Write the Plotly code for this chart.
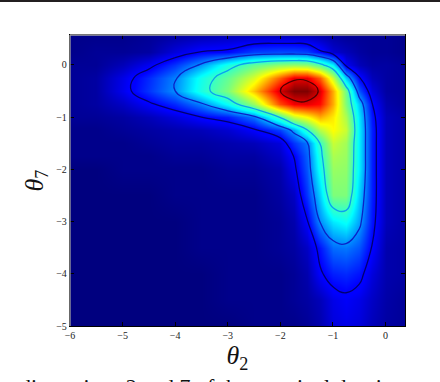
import plotly.graph_objects as go

# Grid of the density (rows follow theta7, columns theta2)
theta2 = [-6, -5.5, -5, -4.5, -4, -3.5, -3, -2.5, -2, -1.75, -1.5, -1.25, -1, -0.75, -0.5, -0.25, 0, 0.4]
theta7 = [-5, -4.5, -4, -3.5, -3, -2.5, -2, -1.75, -1.5, -1.25, -1, -0.75, -0.5, -0.25, 0, 0.25, 0.57]

density = [
    [.00, .00, .00, .00, .00, .00, .00, .01, .01, .01, .02, .04, .08, .09, .08, .05, .03, .02],
    [.00, .00, .00, .00, .00, .00, .01, .01, .01, .02, .03, .05, .09, .105, .09, .06, .035, .02],
    [.00, .00, .00, .00, .00, .00, .01, .01, .01, .02, .04, .11, .15, .16, .14, .08, .04, .03],
    [.00, .00, .00, .00, .00, .01, .01, .01, .02, .03, .06, .14, .22, .23, .20, .115, .04, .03],
    [.00, .00, .00, .00, .00, .01, .01, .01, .02, .04, .11, .25, .33, .36, .27, .14, .05, .03],
    [.00, .00, .00, .00, .01, .01, .01, .01, .03, .06, .17, .31, .50, .50, .31, .15, .05, .03],
    [.00, .00, .01, .01, .01, .01, .02, .02, .04, .10, .20, .37, .53, .52, .34, .15, .05, .03],
    [.01, .01, .01, .01, .02, .02, .03, .03, .06, .12, .21, .39, .55, .53, .34, .15, .05, .03],
    [.01, .01, .01, .02, .03, .03, .04, .05, .08, .17, .23, .42, .58, .54, .34, .15, .05, .03],
    [.01, .01, .02, .03, .04, .05, .07, .11, .18, .27, .41, .56, .64, .58, .34, .15, .05, .03],
    [.02, .02, .03, .05, .08, .12, .15, .23, .43, .58, .64, .72, .66, .55, .33, .14, .05, .03],
    [.02, .03, .06, .11, .16, .24, .36, .53, .82, .90, .91, .88, .72, .50, .30, .12, .04, .02],
    [.02, .03, .095, .17, .25, .38, .50, .70, .93, 1.0, 1.0, .92, .72, .48, .20, .08, .03, .02],
    [.02, .03, .09, .16, .24, .37, .47, .60, .80, .91, .91, .80, .58, .30, .125, .05, .03, .02],
    [.02, .02, .05, .10, .17, .26, .38, .47, .52, .53, .52, .45, .34, .10, .05, .03, .03, .02],
    [.01, .02, .02, .03, .08, .12, .13, .18, .19, .19, .18, .13, .07, .05, .03, .02, .02, .01],
    [.01, .01, .01, .02, .03, .04, .05, .05, .05, .05, .05, .04, .03, .02, .02, .02, .02, .01],
]

contour_levels = [0.12, 0.25, 0.42, 0.93]
contour_colors = ["#00006e", "#0a22c8", "#0aa0f0", "#500000"]
tick_x = [-6, -5, -4, -3, -2, -1, 0]
tick_y = [-5, -4, -3, -2, -1, 0]
caption = "dimensions 2 and 7 of the marginal density"

jet = [
    [0.0, "#00007f"], [0.11, "#0000ff"], [0.125, "#0000ff"], [0.35, "#00ffff"],
    [0.5, "#7dff7a"], [0.64, "#ffff00"], [0.89, "#ff0000"], [1.0, "#7f0000"],
]

fig = go.Figure()
fig.add_trace(go.Heatmap(x=theta2, y=theta7, z=density, colorscale=jet, zmin=0, zmax=1,
                         zsmooth="best", showscale=False))

for level, color in zip(contour_levels, contour_colors):
    fig.add_trace(go.Contour(x=theta2, y=theta7, z=density, showscale=False,
                             contours=dict(coloring="none", start=level, end=level, size=1),
                             line=dict(color=color, width=1.3, smoothing=1.3)))

axis_style = dict(showgrid=False, zeroline=False, ticks="inside", ticklen=4, tickwidth=1,
                  tickcolor="#000000", mirror="ticks", showline=True, linecolor="#000000", linewidth=1.3,
                  tickfont=dict(family="Liberation Serif", size=10, color="#222222"))
title_font = dict(family="Liberation Serif", size=26, color="#111111")

fig.update_layout(
    width=440, height=382, margin=dict(l=70, r=35, t=35, b=56),
    paper_bgcolor="#ffffff", plot_bgcolor="#00007f", showlegend=False,
    xaxis=dict(range=[-6, 0.37], tickvals=tick_x, ticktext=["−6", "−5", "−4", "−3", "−2", "−1", "0"],
               title=dict(text="<i>θ</i><sub>2</sub>", font=title_font, standoff=5), **axis_style),
    yaxis=dict(range=[-5, 0.57], tickvals=tick_y, ticktext=["−5", "−4", "−3", "−2", "−1", "0"],
               title=dict(text="<i>θ</i><sub>7</sub>", font=title_font, standoff=5), **axis_style),
    shapes=[
        # dark rule at the very top of the page
        dict(type="rect", xref="paper", yref="paper", x0=-0.21, x1=1.11, y0=1.113, y1=1.125,
             fillcolor="#231f20", line_width=0),
        # top and left frame edges are grey in the reference
        dict(type="line", xref="paper", yref="paper", x0=0, x1=1, y0=1, y1=1, line=dict(color="#a0a0a0", width=1.3)),
        dict(type="line", xref="paper", yref="paper", x0=0, x1=0, y0=0, y1=1, line=dict(color="#a0a0a0", width=1.3)),
    ],
    annotations=[
        # caption of the source page, cut by the bottom edge
        dict(text=caption, xref="paper", yref="paper", x=-0.155, y=-0.158, xanchor="left", yanchor="top",
             showarrow=False, font=dict(family="Liberation Serif", size=22, color="#111111")),
    ],
)

fig.write_html("out.html", post_script="document.body.style.margin='0';", config=dict(displayModeBar=False))
